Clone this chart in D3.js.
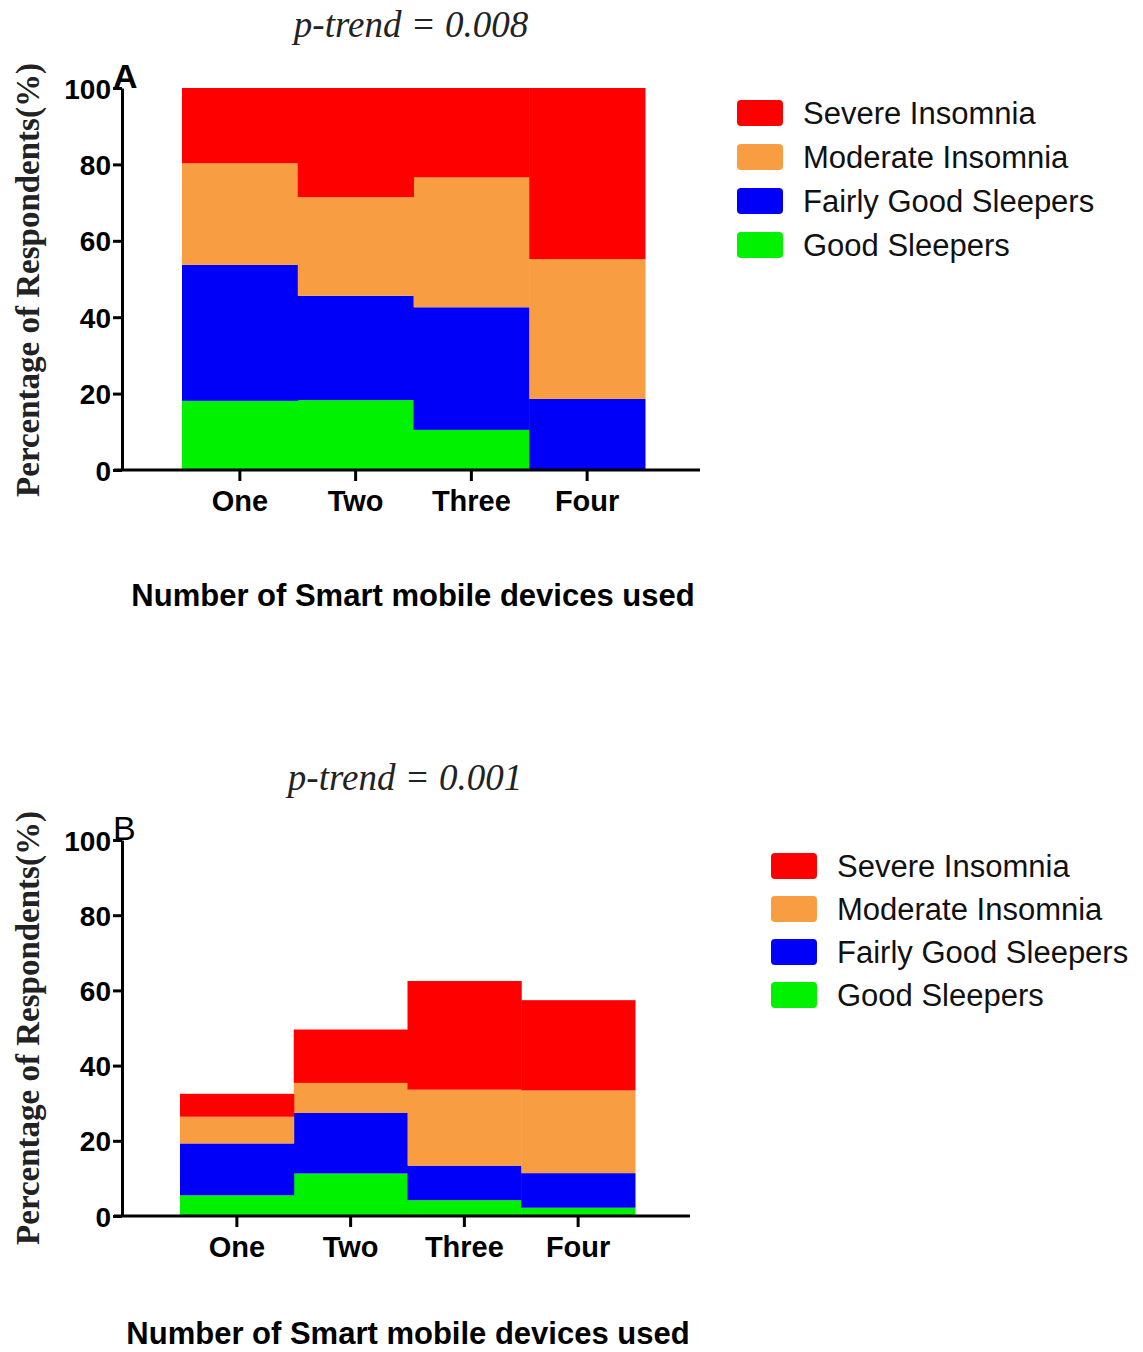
<!DOCTYPE html>
<html>
<head>
<meta charset="utf-8">
<script src="https://cdn.jsdelivr.net/npm/d3@7"></script>
<style>
  body { margin: 0; background: #fff; }
  svg { display: block; }
</style>
</head>
<body>
<div class="mydiv"></div>
<script>
var width = 1143;
var height = 1352;

// categories and series names
var devices = ["One", "Two", "Three", "Four"];
var levels = ["Good Sleepers", "Fairly Good Sleepers", "Moderate Insomnia", "Severe Insomnia"];
var legendOrder = ["Severe Insomnia", "Moderate Insomnia", "Fairly Good Sleepers", "Good Sleepers"];
var yTicks = [0, 20, 40, 60, 80, 100];

// panel A values (% of respondents)
var goodA     = [18.1, 18.3, 10.5, 0];
var fairlyA   = [35.6, 27.3, 32.1, 18.6];
var moderateA = [26.6, 25.8, 34.0, 36.6];
var severeA   = [19.7, 28.6, 23.4, 44.8];

// panel B values
var goodB     = [5.5, 11.3, 4.2, 2.2];
var fairlyB   = [13.8, 16.1, 9.2, 9.2];
var moderateB = [7.1, 8.0, 20.2, 22.0];
var severeB   = [6.1, 14.2, 28.9, 24.0];

var colors = {
	"Severe Insomnia": "#fe0000",
	"Moderate Insomnia": "#f99d42",
	"Fairly Good Sleepers": "#0000f8",
	"Good Sleepers": "#00f200"
};

var svg = d3.select(".mydiv")
	.append("svg")
	.attr("width", width)
	.attr("height", height);

function buildTable(good, fairly, moderate, severe) {
	return devices.map(function(d, i) {
		return {
			device: d,
			"Good Sleepers": good[i],
			"Fairly Good Sleepers": fairly[i],
			"Moderate Insomnia": moderate[i],
			"Severe Insomnia": severe[i]
		};
	});
}

function drawPanel(p) {
	var g = svg.append("g");

	var x = d3.scaleBand()
		.domain(devices)
		.range([p.barLeft, p.barRight])
		.paddingInner(0)
		.paddingOuter(0);

	var y = d3.scaleLinear()
		.domain([0, 100])
		.range([p.y0, p.y100]);

	var stacked = d3.stack().keys(levels)(p.table);

	g.selectAll("g.layer")
		.data(stacked)
		.enter()
		.append("g")
		.attr("class", "layer")
		.attr("fill", function(d) { return colors[d.key]; })
		.selectAll("rect")
		.data(function(d) { return d; })
		.enter()
		.append("rect")
		.attr("x", function(d) { return x(d.data.device); })
		.attr("width", x.bandwidth() + 0.5)
		.attr("y", function(d) { return y(d[1]); })
		.attr("height", function(d) { return Math.max(0, y(d[0]) - y(d[1])); });

	// y axis
	var yAxis = g.append("g")
		.attr("transform", "translate(" + p.axisX + ",0)")
		.call(d3.axisLeft(y).tickValues(yTicks).tickSize(9).tickSizeOuter(0).tickPadding(2));
	yAxis.select(".domain").attr("stroke-width", 3);
	yAxis.selectAll(".tick line").attr("stroke-width", 3);
	yAxis.selectAll("text")
		.attr("font-family", "Liberation Sans, Arial, sans-serif")
		.attr("font-weight", "bold")
		.attr("font-size", 28)
		.attr("fill", "#000")
		.attr("dy", "0.36em");

	// x axis
	var xAxis = g.append("g")
		.attr("transform", "translate(0," + p.y0 + ")")
		.call(d3.axisBottom(x).tickSize(11).tickSizeOuter(0).tickPadding(9));
	xAxis.select(".domain").remove();
	xAxis.selectAll(".tick line").attr("stroke-width", 3);
	xAxis.selectAll("text")
		.attr("font-family", "Liberation Sans, Arial, sans-serif")
		.attr("font-weight", "bold")
		.attr("font-size", 29)
		.attr("fill", "#000");
	g.append("line")
		.attr("x1", p.axisX - 8)
		.attr("x2", p.axisEnd)
		.attr("y1", p.y0)
		.attr("y2", p.y0)
		.attr("stroke", "#000")
		.attr("stroke-width", 3);

	// panel letter
	g.append("text")
		.attr("x", p.axisX - 9)
		.attr("y", p.y100 + 0)
		.attr("font-family", "Liberation Sans, Arial, sans-serif")
		.attr("font-weight", p.letterWeight)
		.attr("font-size", 34)
		.text(p.letter);

	// p-trend title
	g.append("text")
		.attr("x", p.titleX)
		.attr("y", p.titleY)
		.attr("text-anchor", "middle")
		.attr("font-family", "Liberation Serif, Times New Roman, serif")
		.attr("font-style", "italic")
		.attr("font-size", 37)
		.attr("fill", "#222")
		.text(p.title);

	// y axis title
	g.append("text")
		.attr("transform", "translate(39," + p.yLabelMid + ") rotate(-90)")
		.attr("text-anchor", "middle")
		.attr("font-family", "Liberation Serif, Times New Roman, serif")
		.attr("font-weight", "bold")
		.attr("font-size", 33)
		.attr("fill", "#222")
		.text("Percentage of Respondents(%)");

	// x axis title
	g.append("text")
		.attr("x", p.xTitleX)
		.attr("y", p.xTitleY)
		.attr("text-anchor", "middle")
		.attr("font-family", "Liberation Sans, Arial, sans-serif")
		.attr("font-weight", "bold")
		.attr("font-size", 31)
		.text("Number of Smart mobile devices used");

	// legend
	var leg = g.selectAll("g.leg")
		.data(legendOrder)
		.enter()
		.append("g")
		.attr("class", "leg")
		.attr("transform", function(d, i) {
			return "translate(" + p.legX + "," + (p.legY + i * p.legStep) + ")";
		});
	leg.append("rect")
		.attr("x", 0)
		.attr("y", -13)
		.attr("width", 46)
		.attr("height", 26)
		.attr("rx", 4)
		.attr("fill", function(d) { return colors[d]; });
	leg.append("text")
		.attr("x", 66)
		.attr("y", 11)
		.attr("font-family", "Liberation Sans, Arial, sans-serif")
		.attr("font-size", 31)
		.attr("fill", "#111")
		.text(function(d) { return d; });
}

drawPanel({
	table: buildTable(goodA, fairlyA, moderateA, severeA),
	barLeft: 182, barRight: 645,
	y0: 470, y100: 88,
	axisX: 122, axisEnd: 700,
	letter: "A", letterWeight: "bold",
	title: "p-trend = 0.008", titleX: 411, titleY: 37,
	yLabelMid: 280,
	xTitleX: 413, xTitleY: 606,
	legX: 737, legY: 113, legStep: 44
});

drawPanel({
	table: buildTable(goodB, fairlyB, moderateB, severeB),
	barLeft: 180, barRight: 635,
	y0: 1216, y100: 840,
	axisX: 122, axisEnd: 690,
	letter: "B", letterWeight: "normal",
	title: "p-trend = 0.001", titleX: 405, titleY: 790,
	yLabelMid: 1028,
	xTitleX: 408, xTitleY: 1344,
	legX: 771, legY: 866, legStep: 43
});
</script>
</body>
</html>
